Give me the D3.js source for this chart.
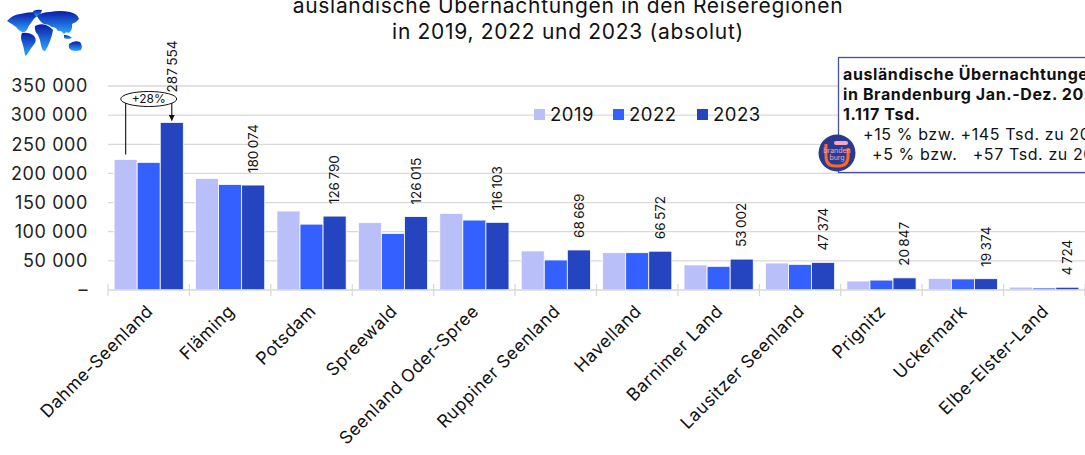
<!DOCTYPE html>
<html><head><meta charset="utf-8">
<script src="https://cdn.jsdelivr.net/npm/d3@7"></script>
<style>body{margin:0;background:#fff;}svg{display:block;font-family:Inter,"Open Sans",sans-serif;}</style>
</head><body><svg id="c" width="1085" height="455"></svg>
<script>
const categories = ["Dahme-Seenland","Fläming","Potsdam","Spreewald","Seenland Oder-Spree","Ruppiner Seenland","Havelland","Barnimer Land","Lausitzer Seenland","Prignitz","Uckermark","Elbe-Elster-Land"];
const years = ["2019","2022","2023"];
const v2019 = [224000,191500,135500,115500,131500,67000,64000,43000,46300,15400,20000,5000];
const v2022 = [219000,181000,113000,97000,120000,51500,64000,40600,44000,17000,19000,3500];
const v2023 = [287554,180074,126790,126015,116103,68669,66572,53002,47374,20847,19374,4724];
const yTicks = [0,50000,100000,150000,200000,250000,300000,350000];
const colors = ["#b8bff9","#3360ff","#2444c0"];
const titleLines = ["ausländische Übernachtungen in den Reiseregionen","in 2019, 2022 und 2023 (absolut)"];
const infoLines = ["ausländische Übernachtungen","in Brandenburg Jan.-Dez. 2023","1.117 Tsd.","+15 % bzw. +145 Tsd. zu 2022","+5 % bzw.   +57 Tsd. zu 2019"];
const annotation = "+28%";

const svg = d3.select("#c");
const loc = d3.formatLocale({decimal:",",thousands:"\u202F",grouping:[3],currency:["","€"]});
const fmt = loc.format(",d");
const ytf = d3.formatLocale({decimal:",",thousands:" ",grouping:[3],currency:["","€"]}).format(",d");

const m = {l:108, r:1085, t:86, b:290};
const x = d3.scaleBand().domain(categories).range([m.l, m.r]).paddingInner(0.15).paddingOuter(0.075);
const xStep = d3.scaleBand().domain(categories).range([m.l, m.r]);
const xs = d3.scaleBand().domain(years).range([0, x.bandwidth()]);
const y = d3.scaleLinear().domain([0,350000]).range([m.b, m.t]);

// gridlines
svg.append("g").selectAll("line").data(yTicks.slice(1)).join("line")
  .attr("x1", m.l).attr("x2", m.r).attr("y1", d=>y(d)).attr("y2", d=>y(d))
  .attr("stroke","#d9d9d9").attr("stroke-width",1.3);

// y labels
svg.append("g").selectAll("text").data(yTicks).join("text")
  .attr("x", 88).attr("y", d=>y(d)).attr("dy","0.35em").attr("text-anchor","end")
  .attr("font-size",18).attr("letter-spacing",0.6).attr("fill","#222")
  .text(d=> d===0 ? "–" : ytf(d));

// bars
const series = [v2019, v2022, v2023];
const g = svg.append("g");
series.forEach((vals, si) => {
  g.selectAll(null).data(categories).join("rect")
    .attr("x", (c)=> x(c) + xs(years[si]))
    .attr("width", xs.bandwidth())
    .attr("y", (c,i)=> y(vals[i]))
    .attr("height", (c,i)=> y(0)-y(vals[i]))
    .attr("fill", colors[si]).attr("stroke","#fff").attr("stroke-width",0.8);
});

// axis baseline + ticks
svg.append("line").attr("x1",m.l).attr("x2",m.r).attr("y1",y(0)).attr("y2",y(0)).attr("stroke","#d9d9d9").attr("stroke-width",1.3);
const bounds = categories.map(c=>xStep(c)).concat([m.r]);
svg.append("g").selectAll("line").data(bounds).join("line")
  .attr("x1",d=>d).attr("x2",d=>d).attr("y1",y(0)-6).attr("y2",y(0)+6)
  .attr("stroke","#d9d9d9").attr("stroke-width",1.3);

// x labels
svg.append("g").selectAll("text").data(categories).join("text")
  .attr("transform", c=>`translate(${xStep(c)+xStep.bandwidth()/2+1},${y(0)+18}) rotate(-45)`)
  .attr("text-anchor","end").attr("dy","0.35em").attr("font-size",17.5).attr("letter-spacing",0.5).attr("fill","#111")
  .text(c=>c);

// value labels on 2023
svg.append("g").selectAll("text").data(categories).join("text")
  .attr("transform",(c,i)=>{
    const cx = x(c)+xs("2023")+xs.bandwidth()/2;
    const off = i===0 ? 30 : 12;
    return `translate(${cx},${y(v2023[i])-off}) rotate(-90)`;
  })
  .attr("dy","0.35em").attr("font-size",13.5).attr("fill","#111")
  .text((c,i)=>fmt(v2023[i]));

// annotation
const c0 = categories[0];
const bx1 = x(c0)+xs("2019")+xs.bandwidth()/2;
const bx3 = x(c0)+xs("2023")+xs.bandwidth()/2;
const ey = 99;
const defs = svg.append("defs");
defs.append("marker").attr("id","arr").attr("viewBox","0 0 10 10").attr("refX",9).attr("refY",5)
  .attr("markerWidth",5).attr("markerHeight",5).attr("orient","auto")
  .append("path").attr("d","M0,0L10,5L0,10z").attr("fill","#111");
svg.append("line").attr("x1",bx1).attr("x2",bx1).attr("y1",y(v2019[0])-5).attr("y2",ey).attr("stroke","#222").attr("stroke-width",1.2);
svg.append("line").attr("x1",bx3).attr("x2",bx3).attr("y1",ey).attr("y2",y(v2023[0])-2).attr("stroke","#222").attr("stroke-width",1.2).attr("marker-end","url(#arr)");
svg.append("ellipse").attr("cx",(bx1+bx3)/2).attr("cy",ey).attr("rx",28).attr("ry",7.5).attr("fill","#fff").attr("stroke","#111").attr("stroke-width",1);
svg.append("text").attr("x",(bx1+bx3)/2).attr("y",ey).attr("dy","0.35em").attr("text-anchor","middle").attr("font-size",12).attr("fill","#111").text(annotation);

// title
svg.append("g").selectAll("text").data(titleLines).join("text")
  .attr("x",568).attr("y",(d,i)=>13+i*26).attr("text-anchor","middle").attr("font-size",21).attr("letter-spacing",0.7).attr("fill","#111")
  .text(d=>d);

// legend
const lg = svg.append("g");
const lx = [534,613,697];
years.forEach((yr,i)=>{
  lg.append("rect").attr("x",lx[i]).attr("y",109).attr("width",11).attr("height",11).attr("fill",colors[i]);
  lg.append("text").attr("x",lx[i]+16).attr("y",115).attr("dy","0.35em").attr("font-size",18.5).attr("letter-spacing",0.5).attr("fill","#111").text(yr);
});

// info box
svg.append("rect").attr("x",838.5).attr("y",57.5).attr("width",260).attr("height",115).attr("fill","#fff").attr("stroke","#4a4ea0").attr("stroke-width",1.3);
const ib = svg.append("g").attr("font-size",16).attr("letter-spacing",0.6).attr("fill","#111");
ib.append("text").attr("x",843).attr("y",80).attr("font-weight","bold").text(infoLines[0]);
ib.append("text").attr("x",843).attr("y",100).attr("font-weight","bold").text(infoLines[1]);
ib.append("text").attr("x",843).attr("y",120).attr("font-weight","bold").text(infoLines[2]);
ib.append("text").attr("x",863).attr("y",140).text(infoLines[3]);
ib.append("text").attr("x",872).attr("y",160).style("white-space","pre").text(infoLines[4]);

// brandenburg logo
const lgo = svg.append("g").attr("transform","translate(837,153)");
lgo.append("circle").attr("r",18.5).attr("fill","#2b3a8f");
lgo.append("path").attr("d","M-11,-9 L-11,3 Q-11,13 -2,13 L2,13 Q11,13 11,3 L11,-5").attr("fill","none").attr("stroke","#f26a2e").attr("stroke-width",3);
lgo.append("path").attr("d","M-1,-10 L9,-10").attr("stroke","#f7a6c0").attr("stroke-width",4).attr("stroke-linecap","round");
lgo.append("text").attr("y",0).attr("text-anchor","middle").attr("font-size",7).attr("fill","#f7a6c0").text("branden");
lgo.append("text").attr("y",7).attr("text-anchor","middle").attr("font-size",7).attr("fill","#f7a6c0").text("burg");

// globe icon (stylised world map)
const gr = defs.append("linearGradient").attr("id","gg").attr("x1",0).attr("y1",0).attr("x2",0).attr("y2",1);
gr.append("stop").attr("offset","0%").attr("stop-color","#0b1aa8");
gr.append("stop").attr("offset","100%").attr("stop-color","#2aa8ff");
const wm = svg.append("g").attr("fill","url(#gg)");
// North America
wm.append("path").attr("d","M7,21 Q12,15 20,14 Q28,12 36,12 L37,16 Q33,19 31,23 Q28,26 27,30 Q24,33 22,32 Q18,30 16,27 Q12,24 7,21Z");
// Greenland
wm.append("path").attr("d","M33,11 Q38,9 42,10 Q41,15 37,17 Q34,15 33,11Z");
// South America
wm.append("path").attr("d","M22,33 Q28,32 33,35 Q37,38 35,43 Q31,48 28,53 Q26,57 25,55 Q24,48 22,42 Q20,37 22,33Z");
// Europe + Asia
wm.append("path").attr("d","M37,16 Q42,12 50,12 Q60,10 70,12 Q78,14 79,19 Q76,23 72,24 Q73,29 69,33 Q66,31 64,34 Q61,30 58,31 Q56,27 52,27 Q48,24 44,24 Q40,22 37,16Z");
// Africa
wm.append("path").attr("d","M35,26 Q40,23 46,25 Q51,27 53,30 Q52,36 50,41 Q48,47 45,51 Q42,51 41,45 Q40,39 38,35 Q34,31 35,26Z");
// SE Asia islands
wm.append("path").attr("d","M64,35 Q69,35 72,38 Q68,40 64,38Z");
// Australia
wm.append("path").attr("d","M69,44 Q74,40 80,42 Q83,46 81,50 Q76,52 71,50 Q68,48 69,44Z");
</script></body></html>
